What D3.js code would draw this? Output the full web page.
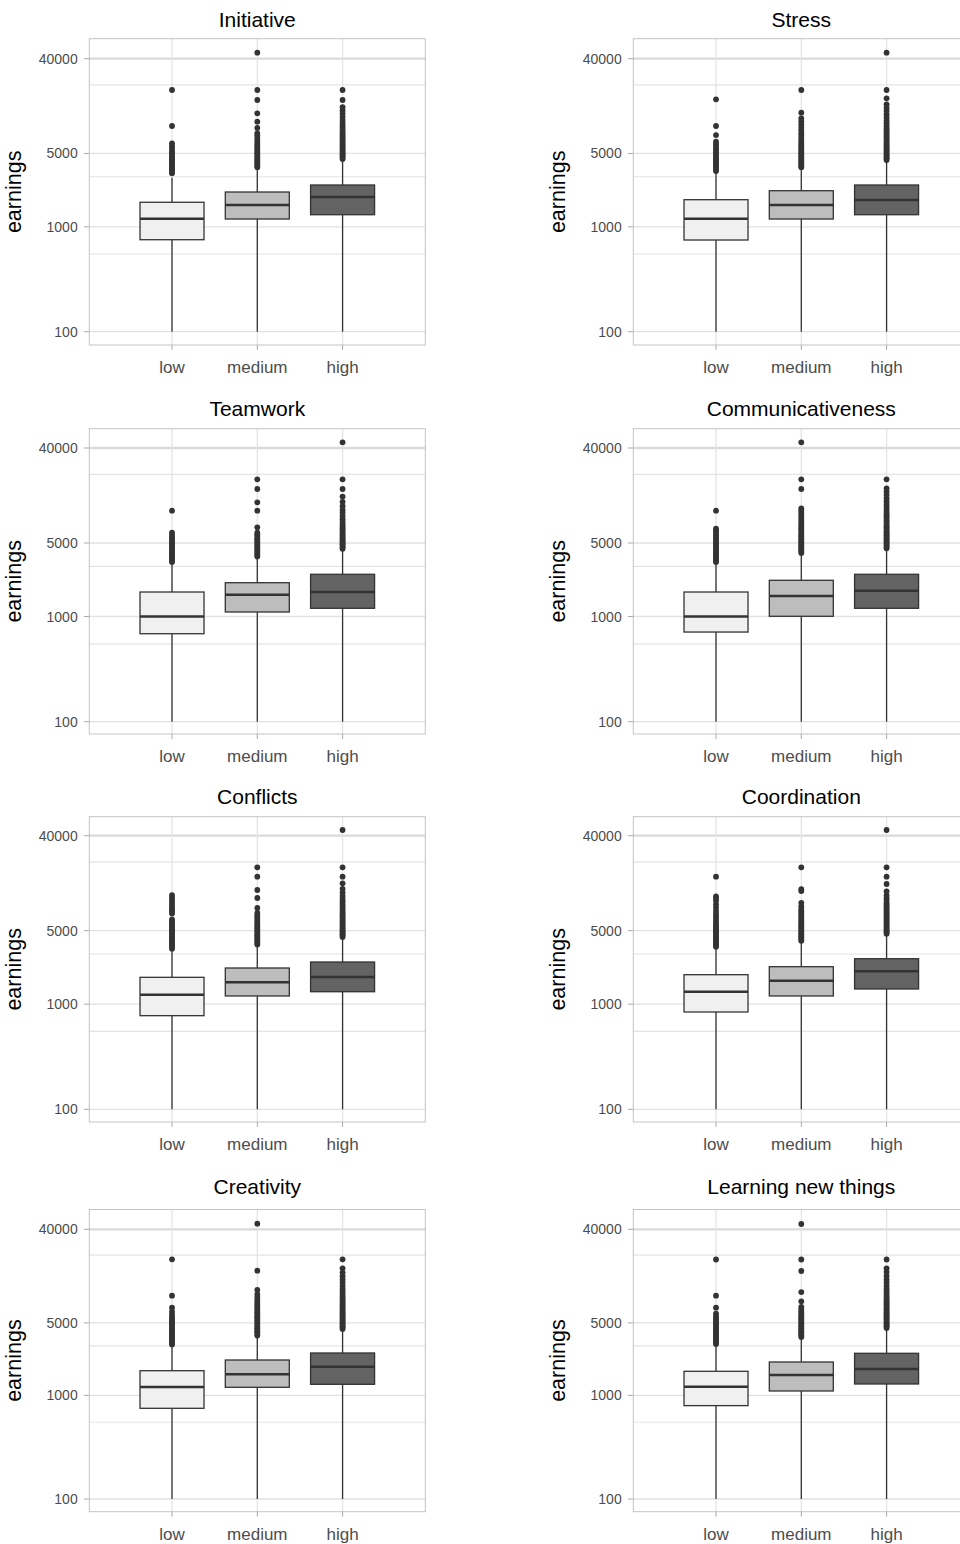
<!DOCTYPE html>
<html>
<head>
<meta charset="utf-8">
<script src="https://cdn.jsdelivr.net/npm/d3@7"></script>
<style>
  html, body { margin: 0; padding: 0; background: #ffffff; }
  svg { display: block; }
  text { font-family: "Liberation Sans", Arial, Helvetica, sans-serif; }
</style>
</head>
<body>
<svg id="chart" width="960" height="1544"></svg>
<script>
// ---------------- DATA ----------------
const panelTitles = ["Initiative", "Stress", "Teamwork", "Communicativeness",
                     "Conflicts", "Coordination", "Creativity", "Learning new things"];
const levels = ["low", "medium", "high"];
const yTicks = [100, 1000, 5000, 40000];
const yMinorTicks = [550, 3000, 22500];
const yLabel = "earnings";

// per panel: [low, medium, high]
const whiskerLow = [
  [100, 100, 100], [100, 100, 100], [100, 100, 100], [100, 100, 100],
  [100, 100, 100], [100, 100, 100], [100, 100, 100], [100, 100, 100]
];
const q1 = [
  [753, 1186, 1303], [748, 1186, 1303], [686, 1104, 1197], [712, 1005, 1197],
  [777, 1196, 1313], [842, 1196, 1394], [750, 1196, 1278], [796, 1102, 1287]
];
const medians = [
  [1194, 1613, 1922], [1194, 1613, 1800], [1000, 1612, 1710], [1000, 1567, 1760],
  [1230, 1614, 1813], [1313, 1671, 2053], [1204, 1596, 1890], [1212, 1571, 1796]
];
const q3 = [
  [1712, 2145, 2502], [1812, 2207, 2502], [1710, 2096, 2520], [1710, 2209, 2520],
  [1800, 2207, 2517], [1906, 2271, 2705], [1729, 2193, 2563], [1706, 2098, 2545]
];
const whiskerHigh = [
  [2936, 3609, 4330], [3306, 3609, 4236], [3205, 3623, 4290], [3205, 3930, 4355],
  [3273, 3596, 4257], [3420, 3900, 4576], [3013, 3680, 4270], [3040, 3567, 4366]
];
const outliers = [
  // Initiative
  [[3230, 3330, 3450, 3560, 3680, 3800, 3950, 4100, 4250, 4400, 4550, 4700, 4900, 5100, 5300, 5600, 5900, 6250, 9130, 20130],
   [3700, 3820, 3950, 4080, 4220, 4370, 4520, 4680, 4850, 5020, 5200, 5400, 5600, 5850, 6100, 6400, 6700, 7000, 7400, 7780, 8740, 10040, 12060, 16160, 20130, 45620],
   [4420, 4560, 4700, 4850, 5000, 5160, 5330, 5500, 5700, 5900, 6100, 6350, 6600, 6850, 7100, 7400, 7700, 8000, 8400, 8800, 9300, 9800, 10400, 11100, 11900, 12800, 13800, 16160, 20130]],
  // Stress
  [[3400, 3520, 3650, 3780, 3920, 4060, 4200, 4350, 4500, 4700, 4900, 5100, 5350, 5600, 5900, 6150, 6470, 7490, 9130, 16400],
   [3700, 3820, 3950, 4080, 4220, 4370, 4520, 4680, 4850, 5020, 5200, 5400, 5600, 5850, 6100, 6400, 6700, 7000, 7400, 7800, 8300, 8800, 9400, 10100, 10810, 12230, 20130],
   [4330, 4470, 4610, 4760, 4910, 5070, 5240, 5420, 5600, 5800, 6000, 6250, 6500, 6750, 7000, 7300, 7600, 7950, 8300, 8700, 9200, 9700, 10300, 11000, 11800, 12700, 13600, 14700, 16770, 20130, 45620]],
  // Teamwork
  [[3300, 3420, 3540, 3670, 3800, 3940, 4080, 4230, 4380, 4540, 4700, 4880, 5060, 5250, 5450, 5650, 5900, 6260, 10140],
   [3720, 3850, 3980, 4120, 4260, 4410, 4560, 4720, 4880, 5050, 5230, 5420, 5620, 5850, 6050, 6260, 7050, 10140, 12180, 16300, 20160],
   [4400, 4540, 4680, 4830, 4980, 5140, 5300, 5470, 5650, 5850, 6050, 6250, 6500, 6750, 7000, 7300, 7600, 7950, 8400, 9000, 9700, 10300, 11200, 12300, 13800, 16300, 20160, 45310]],
  // Communicativeness
  [[3300, 3420, 3540, 3670, 3800, 3940, 4080, 4230, 4380, 4540, 4700, 4880, 5060, 5250, 5450, 5650, 5870, 6100, 6350, 6600, 6840, 10140],
   [4020, 4150, 4290, 4430, 4580, 4730, 4890, 5050, 5220, 5400, 5600, 5800, 6000, 6250, 6500, 6750, 7000, 7300, 7600, 7950, 8300, 8700, 9200, 9700, 10200, 10680, 16300, 20160, 45310],
   [4450, 4590, 4730, 4880, 5040, 5200, 5370, 5550, 5730, 5920, 6120, 6330, 6550, 6800, 7050, 7300, 7600, 7900, 8200, 8600, 9000, 9400, 9900, 10400, 11000, 11700, 12500, 13300, 14300, 15400, 16500, 20160]],
  // Conflicts
  [[3370, 3490, 3610, 3740, 3870, 4010, 4150, 4300, 4450, 4610, 4780, 4950, 5130, 5320, 5520, 5740, 5960, 6200, 6400, 7300, 7650, 8000, 8400, 8800, 9300, 9800, 10300, 10900],
   [3700, 3820, 3950, 4080, 4220, 4370, 4520, 4680, 4850, 5020, 5200, 5400, 5600, 5850, 6100, 6400, 6700, 7000, 7360, 8210, 10220, 12180, 16300, 20020],
   [4350, 4490, 4630, 4780, 4930, 5090, 5250, 5420, 5600, 5800, 6000, 6200, 6450, 6700, 6950, 7250, 7550, 7850, 8200, 8600, 9000, 9500, 10000, 10700, 11500, 12500, 14100, 16300, 20020, 45310]],
  // Coordination
  [[3520, 3640, 3770, 3900, 4040, 4180, 4330, 4480, 4640, 4800, 4970, 5150, 5350, 5550, 5800, 6100, 6450, 6800, 7200, 7700, 8300, 8900, 9600, 10100, 10610, 16300],
   [4000, 4130, 4270, 4410, 4560, 4710, 4870, 5030, 5200, 5380, 5560, 5760, 5980, 6200, 6450, 6700, 7000, 7300, 7650, 8000, 8500, 9160, 11900, 12400, 20020],
   [4680, 4830, 4980, 5140, 5300, 5470, 5650, 5840, 6030, 6230, 6450, 6670, 6900, 7150, 7400, 7700, 8000, 8350, 8700, 9100, 9600, 10100, 10800, 11840, 13890, 16300, 20020, 45310]],
  // Creativity
  [[3100, 3210, 3320, 3440, 3560, 3690, 3820, 3960, 4100, 4250, 4400, 4560, 4720, 4900, 5080, 5270, 5480, 5700, 6000, 6410, 7010, 9150, 20540],
   [3780, 3900, 4030, 4160, 4300, 4450, 4600, 4760, 4920, 5090, 5270, 5460, 5660, 5870, 6100, 6350, 6600, 6900, 7200, 7550, 7900, 8300, 8800, 9400, 10380, 15940, 45300],
   [4370, 4510, 4650, 4800, 4950, 5110, 5270, 5440, 5620, 5810, 6000, 6200, 6420, 6650, 6900, 7150, 7400, 7700, 8000, 8350, 8700, 9100, 9600, 10100, 10700, 11400, 12200, 13100, 14100, 15300, 16820, 20540]],
  // Learning new things
  [[3130, 3240, 3350, 3470, 3590, 3720, 3850, 3990, 4130, 4280, 4430, 4590, 4760, 4940, 5130, 5330, 5550, 5800, 6150, 7010, 9150, 20450],
   [3660, 3780, 3900, 4030, 4160, 4300, 4440, 4590, 4740, 4900, 5070, 5240, 5420, 5610, 5810, 6020, 6250, 6500, 6800, 7120, 8070, 9910, 15840, 20450, 44990],
   [4470, 4610, 4750, 4900, 5050, 5210, 5380, 5550, 5730, 5920, 6120, 6330, 6550, 6780, 7020, 7270, 7530, 7800, 8100, 8400, 8750, 9150, 9600, 10100, 10700, 11400, 12200, 13100, 14200, 15500, 16820, 20450]]
];
const fillColors = ["#f0f0f0", "#bdbdbd", "#636363"];

// ---------------- LAYOUT ----------------
const colLeft = [89.3, 633.3];
const plotW = 336;
const rows = [
  { top: 38.7,   bottom: 345,    y100: 331.7,  y40k: 58.7,   title: 27.3 },
  { top: 428.7,  bottom: 734,    y100: 721.7,  y40k: 448,    title: 416 },
  { top: 816.7,  bottom: 1122,   y100: 1109.3, y40k: 835.7,  title: 804 },
  { top: 1209.5, bottom: 1511.7, y100: 1499,   y40k: 1229.3, title: 1193.7 }
];

const svg = d3.select("#chart");
const FONT = '"Liberation Sans", Arial, Helvetica, sans-serif';

panelTitles.forEach((title, p) => {
  const r = rows[Math.floor(p / 2)];
  const L = colLeft[p % 2];
  const R = L + plotW;
  const g = svg.append("g");

  const x = d3.scalePoint().domain(levels).range([L, R]).padding(0.97);
  const y = d3.scaleLog().domain([yTicks[0], yTicks[yTicks.length - 1]]).range([r.y100, r.y40k]);

  // grid: minor horizontal
  g.selectAll(".minor").data(yMinorTicks).enter().append("line")
    .attr("x1", L).attr("x2", R)
    .attr("y1", d => y(d)).attr("y2", d => y(d))
    .attr("stroke", "#e4e4e4").attr("stroke-width", 1.2);
  // grid: major horizontal
  g.selectAll(".major").data(yTicks).enter().append("line")
    .attr("x1", L).attr("x2", R)
    .attr("y1", d => y(d)).attr("y2", d => y(d))
    .attr("stroke", d => d === 40000 ? "#dadada" : "#e2e2e2")
    .attr("stroke-width", d => d === 40000 ? 2.3 : 1.3);
  // grid: vertical
  g.selectAll(".vgrid").data(levels).enter().append("line")
    .attr("x1", d => x(d)).attr("x2", d => x(d))
    .attr("y1", r.top).attr("y2", r.bottom)
    .attr("stroke", "#e4e4e4").attr("stroke-width", 1.3);

  // boxes
  levels.forEach((lv, i) => {
    const cx = x(lv);
    const bw = 64;
    // whiskers
    g.append("line").attr("x1", cx).attr("x2", cx)
      .attr("y1", y(q3[p][i])).attr("y2", y(whiskerHigh[p][i]))
      .attr("stroke", "#333333").attr("stroke-width", 1.3);
    g.append("line").attr("x1", cx).attr("x2", cx)
      .attr("y1", y(q1[p][i])).attr("y2", y(whiskerLow[p][i]))
      .attr("stroke", "#333333").attr("stroke-width", 1.3);
    // box
    g.append("rect")
      .attr("x", cx - bw / 2).attr("width", bw)
      .attr("y", y(q3[p][i])).attr("height", y(q1[p][i]) - y(q3[p][i]))
      .attr("fill", fillColors[i]).attr("stroke", "#333333").attr("stroke-width", 1.3);
    // median
    g.append("line").attr("x1", cx - bw / 2).attr("x2", cx + bw / 2)
      .attr("y1", y(medians[p][i])).attr("y2", y(medians[p][i]))
      .attr("stroke", "#333333").attr("stroke-width", 2.6);
    // outliers
    g.selectAll(null).data(outliers[p][i]).enter().append("circle")
      .attr("cx", cx).attr("cy", d => y(d)).attr("r", 2.9)
      .attr("fill", "#333333");
  });

  // panel border
  g.append("rect").attr("x", L).attr("y", r.top)
    .attr("width", plotW).attr("height", r.bottom - r.top)
    .attr("fill", "none").attr("stroke", "#c4c4c4").attr("stroke-width", 1);

  // y axis ticks + labels
  g.selectAll(".ytick").data(yTicks).enter().append("line")
    .attr("x1", L - 5.5).attr("x2", L)
    .attr("y1", d => y(d)).attr("y2", d => y(d))
    .attr("stroke", "#ababab").attr("stroke-width", 1);
  g.selectAll(".ylab").data(yTicks).enter().append("text")
    .attr("x", L - 11.6).attr("y", d => y(d)).attr("dy", "0.36em")
    .attr("text-anchor", "end").attr("font-size", 14).attr("fill", "#4d4d4d")
    .style("font-family", FONT)
    .text(d => d3.format("d")(d));

  // x axis ticks + labels
  g.selectAll(".xtick").data(levels).enter().append("line")
    .attr("x1", d => x(d)).attr("x2", d => x(d))
    .attr("y1", r.bottom).attr("y2", r.bottom + 5)
    .attr("stroke", "#ababab").attr("stroke-width", 1);
  g.selectAll(".xlab").data(levels).enter().append("text")
    .attr("x", d => x(d)).attr("y", r.bottom + 27.8)
    .attr("text-anchor", "middle").attr("font-size", 17).attr("fill", "#4d4d4d")
    .style("font-family", FONT)
    .text(d => d);

  // y axis title
  const cy = (r.top + r.bottom) / 2;
  g.append("text")
    .attr("transform", `translate(${L - 68.8},${cy}) rotate(-90)`)
    .attr("text-anchor", "middle").attr("font-size", 21.5).attr("fill", "#000000")
    .style("font-family", FONT)
    .text(yLabel);

  // panel title
  g.append("text")
    .attr("x", (L + R) / 2).attr("y", r.title)
    .attr("text-anchor", "middle").attr("font-size", 21).attr("fill", "#000000")
    .style("font-family", FONT)
    .text(title);
});
</script>
</body>
</html>
